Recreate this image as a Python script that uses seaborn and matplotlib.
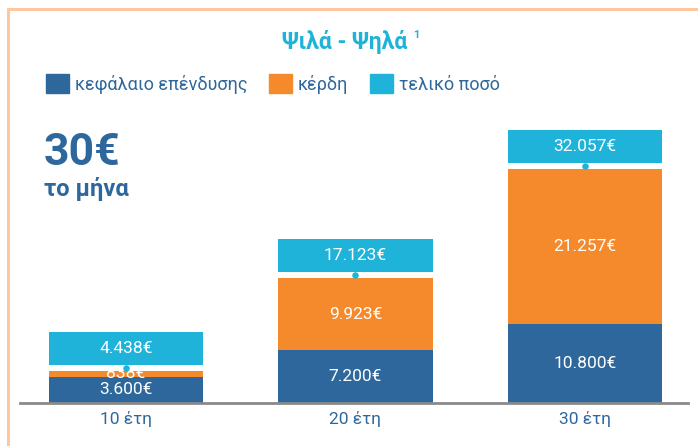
import pandas as pd
import seaborn as sns
import matplotlib.pyplot as plt
from matplotlib.lines import Line2D
from matplotlib.patches import Patch

periods = ['10 έτη', '20 έτη', '30 έτη']
capital = [3600, 7200, 10800]
gains = [838, 9923, 21257]
totals = [4438, 17123, 32057]

BLUE = '#2e679b'
ORANGE = '#f58a2d'
CYAN = '#1fb3da'
FRAME = '#fdc8a0'


def euro(v):
    return '{:,}€'.format(v).replace(',', '.')


sns.set_theme(style='white')
plt.rcParams['font.family'] = ['Roboto', 'DejaVu Sans']

df = pd.DataFrame({'period': periods, 'capital': capital,
                   'stack': [c + g for c, g in zip(capital, gains)]})

fig = plt.figure(figsize=(6.98, 4.46), dpi=100)
ax = fig.add_axes([20 / 698, 43 / 446, 668 / 698, 303 / 446])

bw = 0.675
sns.barplot(data=df, x='period', y='stack', color=ORANGE, width=bw,
            saturation=1, linewidth=0, ax=ax)
sns.barplot(data=df, x='period', y='capital', color=BLUE, width=bw,
            saturation=1, linewidth=0, ax=ax)

# cyan "total" box sits above the stack, fixed height
box_h = 4500
gap = 800
xs = list(range(len(periods)))
ax.bar(xs, [box_h] * 3, bottom=[s + gap for s in df['stack']], width=bw,
       color=CYAN, linewidth=0)
ax.scatter(xs, [s + gap * 0.45 for s in df['stack']], s=22, color=CYAN,
           zorder=5, linewidths=0)

for i in xs:
    c, g, s = capital[i], gains[i], df['stack'][i]
    ax.text(i, c / 2, euro(c), ha='center', va='center', color='white', fontsize=12.5)
    ax.text(i, c + g / 2, euro(g), ha='center', va='center', color='white', fontsize=12.5)
    ax.text(i, s + gap + box_h / 2, euro(totals[i]), ha='center', va='center',
            color='white', fontsize=12.5)

ax.set_xlim(-0.462, 2.449)
ax.set_ylim(0, 41500)
ax.set_xlabel('')
ax.set_ylabel('')
ax.set_yticks([])
ax.tick_params(axis='x', length=0, pad=6, labelsize=12.5, labelcolor=BLUE)
for sp in ['top', 'left', 'right']:
    ax.spines[sp].set_visible(False)
ax.spines['bottom'].set_color('#8a8a8a')
ax.spines['bottom'].set_linewidth(2)

# title
fig.text(345 / 698, 1 - 42 / 446, 'Ψιλά - Ψηλά', ha='center', va='center',
         color=CYAN, fontsize=16.5, fontweight='bold')
fig.text(413 / 698, 1 - 35 / 446, '1', ha='left', va='center', color=CYAN,
         fontsize=8, fontweight='bold')

# legend
handles = [Patch(color=BLUE, label='κεφάλαιο επένδυσης'),
           Patch(color=ORANGE, label='κέρδη'),
           Patch(color=CYAN, label='τελικό ποσό')]
leg = fig.legend(handles=handles, loc='center left', ncol=3, frameon=False,
                 bbox_to_anchor=(46 / 698, 1 - 84 / 446), borderaxespad=0,
                 borderpad=0, fontsize=13, handlelength=1.25, handleheight=1.25,
                 handletextpad=0.35, columnspacing=1.2)
for t in leg.get_texts():
    t.set_color(BLUE)

fig.text(44 / 698, 1 - 153 / 446, '30€', ha='left', va='center', color=BLUE,
         fontsize=32, fontweight='bold')
fig.text(44 / 698, 1 - 189 / 446, 'το μήνα', ha='left', va='center', color=BLUE,
         fontsize=17, fontweight='bold')

# orange frame (left and top edges)
fig.add_artist(Line2D([8 / 698, 8 / 698], [0, 1 - 9 / 446], transform=fig.transFigure,
                      color=FRAME, lw=2.2))
fig.add_artist(Line2D([8 / 698, 1], [1 - 9 / 446, 1 - 9 / 446], transform=fig.transFigure,
                      color=FRAME, lw=2.2))

fig.savefig('out.png', dpi=100)
